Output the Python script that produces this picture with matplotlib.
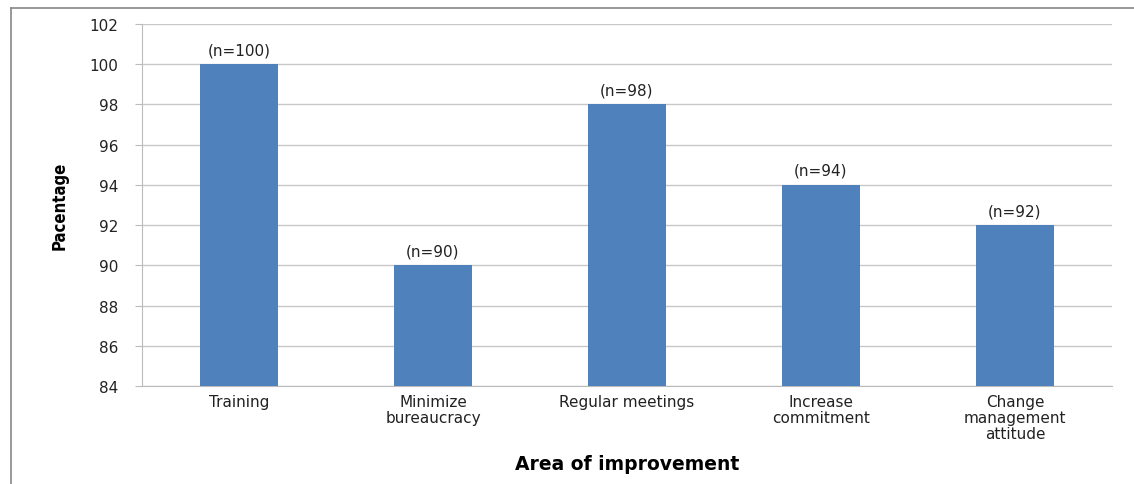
import matplotlib.pyplot as plt
from matplotlib.lines import Line2D

plt.rcParams['font.family'] = ['DejaVu Sans']

# data
categories = ['Training', 'Minimize\nbureaucracy', 'Regular meetings',
              'Increase\ncommitment', 'Change\nmanagement\nattitude']
values = [100, 90, 98, 94, 92]
n_labels = ['(n=100)', '(n=90)', '(n=98)', '(n=94)', '(n=92)']

fig = plt.figure(figsize=(11.34, 4.85), dpi=100)
ax = fig.add_axes([0.1252, 0.2021, 0.8554, 0.7464])

x = range(len(categories))
bars = ax.bar(x, values, width=0.4, color='#4f81bd', zorder=3)
for b, lab in zip(bars, n_labels):
    ax.text(b.get_x() + b.get_width() / 2, b.get_height() + 0.35, lab,
            ha='center', va='bottom', fontsize=11, color='#222222')

ax.set_xlim(-0.5, 4.5)
ax.set_ylim(84, 102)
ax.set_yticks(range(84, 103, 2))
ax.set_xticks(list(x))
ax.set_xticklabels(categories, fontsize=11, color='#222222', linespacing=1.08)
ax.tick_params(axis='x', length=0, pad=6)
ax.tick_params(axis='y', length=5, color='#bbbbbb', labelsize=11,
               labelcolor='#222222', pad=12)
ax.grid(axis='y', color='#c8c8c8', linewidth=1, zorder=0)
for s in ['top', 'right']:
    ax.spines[s].set_visible(False)
for s in ['left', 'bottom']:
    ax.spines[s].set_color('#bbbbbb')

ax.set_xlabel('Area of improvement', fontsize=13.5, fontweight='bold', labelpad=9)
fig.text(0.053, 0.575, 'Pacentage', rotation=90, ha='center', va='center',
         fontsize=12, fontweight='bold', family='DejaVu Sans', fontstretch='condensed')

# outer frame (left and top edges)
fig.add_artist(Line2D([0.0095, 0.0095], [0.0, 0.981], color='#888888', lw=1.2))
fig.add_artist(Line2D([0.0095, 1.0], [0.981, 0.981], color='#888888', lw=1.2))

fig.savefig('out.png', dpi=100)
